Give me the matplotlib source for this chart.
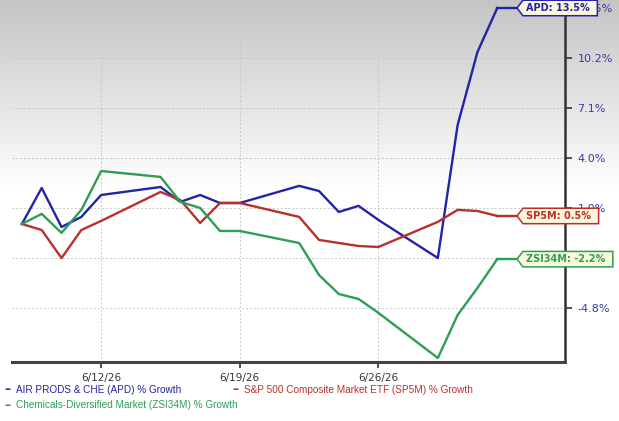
import matplotlib
matplotlib.use('Agg')
import matplotlib.pyplot as plt
import numpy as np
from matplotlib.path import Path
from datetime import datetime, timedelta

# trading days
dates = ['2026-06-08', '2026-06-09', '2026-06-10', '2026-06-11', '2026-06-12',
         '2026-06-15', '2026-06-16', '2026-06-17', '2026-06-18', '2026-06-19',
         '2026-06-22', '2026-06-23', '2026-06-24', '2026-06-25', '2026-06-26',
         '2026-06-29', '2026-06-30', '2026-07-01', '2026-07-02']

apd = [0, 2.25, -0.19, 0.44, 1.81, 2.31, 1.38, 1.81, 1.31, 1.31,
       2.38, 2.06, 0.75, 1.13, 0.25, -2.13, 6.19, 10.75, 13.5]
sp5m = [0, -0.38, -2.13, -0.38, 0.19, 2.0, 1.5, 0.06, 1.31, 1.31,
        0.44, -1.0, -1.19, -1.38, -1.44, 0.13, 0.88, 0.81, 0.5]
zsi = [0, 0.63, -0.56, 0.88, 3.31, 2.94, 1.38, 1.0, -0.44, -0.44,
       -1.19, -3.19, -4.38, -4.69, -5.56, -8.38, -5.69, -4.0, -2.2]

legend_names = ['AIR PRODS & CHE (APD) % Growth',
                'S&P 500 Composite Market ETF (SP5M) % Growth',
                'Chemicals-Diversified Market (ZSI34M) % Growth']
tag_labels = ['APD: 13.5%', 'SP5M: 0.5%', 'ZSI34M: -2.2%']
colors = ['#2323a6', '#b8302c', '#2e9e52']

ytick_vals = [13.5, 10.375, 7.25, 4.125, 1.0, -2.125, -5.25]
ytick_labels = ['13.5%', '10.2%', '7.1%', '4.0%', '1.0%', '-1.9%', '-4.8%']
xtick_dates = ['2026-06-12', '2026-06-19', '2026-06-26']
xtick_labels = ['6/12/26', '6/19/26', '6/26/26']

x = [datetime.strptime(d, '%Y-%m-%d') for d in dates]
xt = [datetime.strptime(d, '%Y-%m-%d') for d in xtick_dates]
tag_x = x[-1] + timedelta(days=1)

W, H = 619, 421
fig = plt.figure(figsize=(W / 100, H / 100), dpi=100)

# grey gradient at the top of the figure
bg = fig.add_axes([0, 0, 1, 1], zorder=-5)
rows = np.linspace(0, 1, H)
g = 0.77 + 0.23 * np.clip(rows / 0.45, 0, 1)
img = np.repeat(g[:, None], 3, axis=1)[:, None, :] * np.ones((H, 2, 3))
bg.imshow(img, aspect='auto', extent=[0, 1, 0, 1])
bg.axis('off')

ax = fig.add_axes([12 / W, 1 - 362 / H, (565 - 12) / W, 362 / H])
ax.set_facecolor('none')

for vals, c in zip([apd, sp5m, zsi], colors):
    ax.plot(x, vals, color=c, lw=1.7, zorder=4)
    ax.plot([x[-1], tag_x], [vals[-1], vals[-1]], color=c, lw=1.7, zorder=4)

ax.set_xlim(x[0] - timedelta(days=0.5), x[-1] + timedelta(days=3.42))
ax.set_ylim(-8.63, 14.0)

ax.set_xticks(xt)
ax.set_xticklabels(xtick_labels, fontsize=7.5, color='#333333')
ax.yaxis.tick_right()
ax.set_yticks(ytick_vals)
ax.set_yticklabels(ytick_labels, fontsize=8, color='#3a3aa8')
ax.tick_params(axis='x', length=4, width=1.2, color='#333333', pad=4)
ax.tick_params(axis='y', length=5, width=1.2, color='#333333', pad=4)

ax.grid(True, color='#c8c8c8', ls=(0, (2, 2)), lw=0.7)
for s in ['left', 'top']:
    ax.spines[s].set_visible(False)
ax.spines['right'].set_color('#333333')
ax.spines['right'].set_linewidth(1.8)
ax.spines['bottom'].set_color('#444444')
ax.spines['bottom'].set_linewidth(2.2)


def tag_box(x0, y0, width, height, mutation_size):
    pl = 0.3 * mutation_size
    pr = 0.8 * mutation_size
    pv = 0.28 * mutation_size
    tip = 0.6 * mutation_size
    left = x0 - pl
    right = x0 + width + pr
    bot = y0 - pv
    top = y0 + height + pv
    mid = (bot + top) / 2
    verts = [(left - tip, mid), (left, bot), (right, bot), (right, top),
             (left, top), (left - tip, mid)]
    codes = [Path.MOVETO] + [Path.LINETO] * 4 + [Path.CLOSEPOLY]
    return Path(verts, codes)


fs = 7
mut = fs * 100 / 72
off_pt = (0.3 * mut + 0.6 * mut) * 72 / 100
for vals, c, lab in zip([apd, sp5m, zsi], colors, tag_labels):
    ax.annotate(lab, xy=(tag_x, vals[-1]), xytext=(off_pt, 0),
                textcoords='offset points', ha='left', va='center',
                fontsize=fs, fontweight='bold', color=c, zorder=10,
                annotation_clip=False,
                bbox=dict(boxstyle=tag_box, fc='#fbf7dc', ec=c, lw=1.1))

# legend rows
legend_pos = [(4, 390), (232, 390), (4, 405)]
for (px, py), name, c in zip(legend_pos, legend_names, colors):
    fig.text(px / W, 1 - py / H, '\u2013', color=c, fontsize=9, fontweight='bold',
             va='center', ha='left')
    fig.text((px + 12) / W, 1 - py / H, name, color=c, fontsize=7.2,
             family='Liberation Sans', va='center', ha='left')

fig.savefig('out.png', dpi=100)
